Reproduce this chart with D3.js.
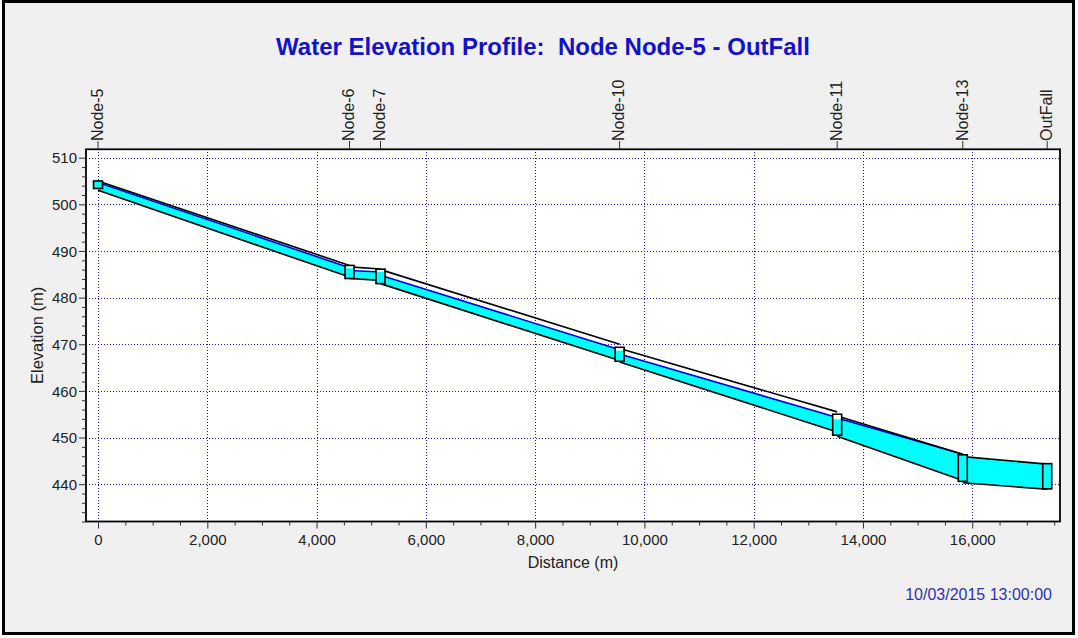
<!DOCTYPE html>
<html><head><meta charset="utf-8">
<script src="https://cdn.jsdelivr.net/npm/d3@7"></script>
<style>
body{margin:0;background:#fff}
svg{display:block}
text{font-family:Arial,"Liberation Sans",sans-serif}
</style>
</head><body>
<svg id="c" width="1078" height="638"></svg>
<script>
// ---------- data ----------
const chartTitle = "Water Elevation Profile:  Node Node-5 - OutFall";
const timeStamp = "10/03/2015 13:00:00";
const xTitle = "Distance (m)";
const yTitle = "Elevation (m)";

const nodeNames  = ["Node-5", "Node-6", "Node-7", "Node-10", "Node-11", "Node-13", "OutFall"];
const nodeDist   = [0, 4603, 5170, 9546, 13528, 15827, 17372];
const nodeInvert = [503.4, 484.1, 483.0, 466.35, 450.5, 440.6, 439.0];
const nodeTop    = [505.0, 486.9, 486.1, 469.35, 455.0, 446.3, 444.4];
const nodeWater  = [504.85, 486.3, 485.55, 468.65, 453.9, 446.3, 444.4];

// conduits between consecutive nodes (upstream, downstream)
const linkInvUp   = [503.0, 484.1, 483.0, 466.2, 450.3, 440.3];
const linkInvDn   = [484.4, 483.7, 466.5, 451.2, 440.8, 438.9];
const linkCrownUp = [505.0, 486.6, 486.0, 469.1, 454.6, 445.9];
const linkCrownDn = [486.9, 486.15, 470.0, 455.5, 446.4, 444.3];
const linkWaterUp = [504.7, 485.8, 484.8, 467.9, 454.2, 445.9];
const linkWaterDn = [486.4, 485.5, 468.8, 454.3, 446.4, 444.3];

const xMajorTicks = [0, 2000, 4000, 6000, 8000, 10000, 12000, 14000, 16000];
const xMinorStep = 500;
const yMajorTicks = [440, 450, 460, 470, 480, 490, 500, 510];
const yMinorStep = 2;
const xDomain = [-220, 17606];
const yDomain = [432, 511.8];

// ---------- layout ----------
const svg = d3.select("#c");
const L = 86, R = 1060, T = 149.3, B = 521.5;
const X = d3.scaleLinear().domain(xDomain).range([L, R]);
const Y = d3.scaleLinear().domain(yDomain).range([B, T]);

svg.append("rect").attr("x", 3.5).attr("y", 1.5).attr("width", 1070).attr("height", 632)
  .attr("fill", "#f0f0f0").attr("stroke", "#000").attr("stroke-width", 3);

svg.append("rect").attr("x", L).attr("y", T).attr("width", R - L).attr("height", B - T)
  .attr("fill", "#fff");

// grid
const grid = svg.append("g").attr("stroke", "#1c1ca0").attr("stroke-width", 1)
  .attr("stroke-dasharray", "1,2").attr("shape-rendering", "crispEdges");
grid.selectAll(".gx").data(xMajorTicks).join("line")
  .attr("x1", d => Math.round(X(d)) + 0.5).attr("x2", d => Math.round(X(d)) + 0.5)
  .attr("y1", T).attr("y2", B);
grid.selectAll(".gy").data(yMajorTicks).join("line")
  .attr("y1", d => Math.round(Y(d)) + 0.5).attr("y2", d => Math.round(Y(d)) + 0.5)
  .attr("x1", L).attr("x2", R);

// conduits
svg.append("clipPath").attr("id", "pc").append("rect")
  .attr("x", L).attr("y", T).attr("width", R - L).attr("height", B - T);
const prof = svg.append("g").attr("clip-path", "url(#pc)");
const links = d3.range(nodeDist.length - 1).map(i => ({
  d0: nodeDist[i], d1: nodeDist[i + 1],
  i0: linkInvUp[i], i1: linkInvDn[i],
  c0: linkCrownUp[i], c1: linkCrownDn[i],
  w0: Math.min(linkWaterUp[i], linkCrownUp[i]), w1: Math.min(linkWaterDn[i], linkCrownDn[i]),
  full: linkWaterUp[i] >= linkCrownUp[i] && linkWaterDn[i] >= linkCrownDn[i]
}));
const line = d3.line().x(p => X(p[0])).y(p => Y(p[1]));
prof.selectAll(".fill").data(links).join("path")
  .attr("d", k => line([[k.d0, k.i0], [k.d1, k.i1], [k.d1, k.w1], [k.d0, k.w0]]) + "Z")
  .attr("fill", "#00ffff");
prof.selectAll(".wl").data(links.filter(k => !k.full)).join("path")
  .attr("d", k => line([[k.d0, k.w0], [k.d1, k.w1]]))
  .attr("stroke", "#0000e0").attr("stroke-width", 1.6).attr("fill", "none");
prof.selectAll(".cr").data(links).join("path")
  .attr("d", k => line([[k.d0, k.c0], [k.d1, k.c1]]))
  .attr("stroke", "#000").attr("stroke-width", 1.6).attr("fill", "none");
prof.selectAll(".iv").data(links).join("path")
  .attr("d", k => line([[k.d0, k.i0], [k.d1, k.i1]]))
  .attr("stroke", "#000").attr("stroke-width", 1.6).attr("fill", "none");

// nodes
const nodes = nodeDist.map((d, i) => ({d, inv: nodeInvert[i], top: nodeTop[i], w: nodeWater[i], name: nodeNames[i]}));
const bw = 9;
prof.selectAll(".nb").data(nodes).join("rect")
  .attr("x", n => X(n.d) - bw / 2).attr("width", bw)
  .attr("y", n => Y(n.top)).attr("height", n => Y(n.inv) - Y(n.top)).attr("fill", "#fff");
prof.selectAll(".nw").data(nodes).join("rect")
  .attr("x", n => X(n.d) - bw / 2).attr("width", bw)
  .attr("y", n => Y(n.w)).attr("height", n => Y(n.inv) - Y(n.w)).attr("fill", "#00ffff");
prof.selectAll(".no").data(nodes).join("rect")
  .attr("x", n => X(n.d) - bw / 2).attr("width", bw)
  .attr("y", n => Y(n.top)).attr("height", n => Y(n.inv) - Y(n.top))
  .attr("fill", "none").attr("stroke", "#000").attr("stroke-width", 1.6);

// plot border
svg.append("rect").attr("x", L).attr("y", T).attr("width", R - L).attr("height", B - T)
  .attr("fill", "none").attr("stroke", "#000").attr("stroke-width", 1.8);

// axes
const tickColor = "#222";
const xMinor = d3.range(0, xDomain[1], xMinorStep).filter(v => !xMajorTicks.includes(v));
const yMinor = d3.range(yDomain[0], yDomain[1], yMinorStep).filter(v => !yMajorTicks.includes(v));

const gx = svg.append("g").attr("transform", `translate(0,${B})`)
  .call(d3.axisBottom(X).tickValues(xMajorTicks).tickSize(7).tickPadding(6).tickFormat(d3.format(",")));
const gxm = svg.append("g").attr("transform", `translate(0,${B})`)
  .call(d3.axisBottom(X).tickValues(xMinor).tickSize(4).tickFormat(""));
const gy = svg.append("g").attr("transform", `translate(${L},0)`)
  .call(d3.axisLeft(Y).tickValues(yMajorTicks).tickSize(7).tickPadding(2).tickFormat(d3.format("d")));
const gym = svg.append("g").attr("transform", `translate(${L},0)`)
  .call(d3.axisLeft(Y).tickValues(yMinor).tickSize(4).tickFormat(""));
[gx, gxm, gy, gym].forEach(g => {
  g.select(".domain").remove();
  g.selectAll("line").attr("stroke", "#333").attr("stroke-width", 1);
  g.selectAll("text").attr("fill", tickColor).style("font-size", "15px")
    .style("font-family", "Arial, 'Liberation Sans', sans-serif");
});
gy.selectAll("text").attr("dy", "0.35em");

// top node markers
const topG = svg.append("g");
topG.selectAll("line").data(nodes).join("line")
  .attr("x1", n => X(n.d)).attr("x2", n => X(n.d)).attr("y1", 141).attr("y2", T)
  .attr("stroke", "#333").attr("stroke-width", 1);
topG.selectAll("text").data(nodes).join("text")
  .attr("transform", n => `translate(${X(n.d)},141) rotate(-90)`)
  .attr("dy", "0.3em").attr("text-anchor", "start")
  .style("font-size", "16px").attr("fill", tickColor).text(n => n.name);

// titles
svg.append("text").attr("x", 543).attr("y", 55).attr("text-anchor", "middle")
  .style("white-space", "pre").style("font-size", "24px").style("font-weight", "bold")
  .attr("fill", "#1212c8").text(chartTitle);
svg.append("text").attr("x", (L + R) / 2).attr("y", 568).attr("text-anchor", "middle")
  .style("font-size", "16px").attr("fill", tickColor).text(xTitle);
svg.append("text").attr("transform", `translate(37.5,${(T + B) / 2}) rotate(-90)`)
  .attr("dy", "0.35em").attr("text-anchor", "middle")
  .style("font-size", "16.5px").attr("fill", tickColor).text(yTitle);
svg.append("text").attr("x", 1052).attr("y", 600).attr("text-anchor", "end")
  .style("font-size", "16px").attr("fill", "#3030b0").text(timeStamp);
</script>
</body></html>
